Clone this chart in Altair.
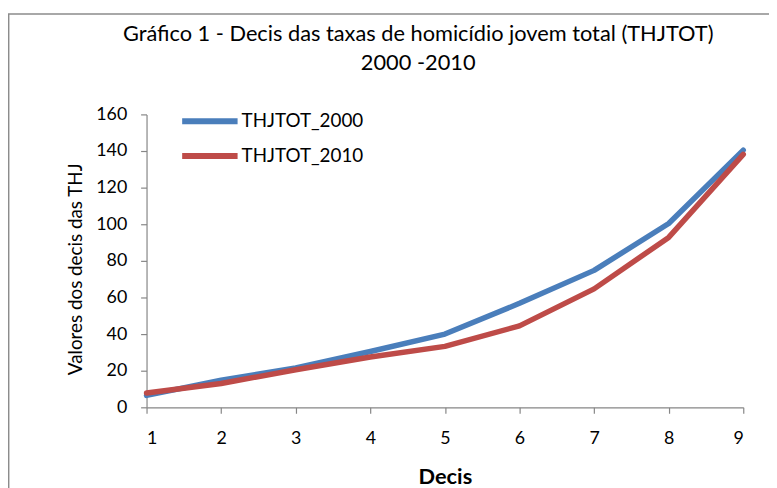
import altair as alt
import pandas as pd

decis = [1, 2, 3, 4, 5, 6, 7, 8, 9]
thj_2000 = [6.5, 14.8, 21.5, 30.5, 40.0, 56.8, 74.8, 100.4, 140.5]
thj_2010 = [7.8, 13.0, 20.5, 27.5, 33.3, 44.5, 64.7, 92.8, 138.2]
series_names = ["THJTOT_2000", "THJTOT_2010"]
colors = ["#4A7EBB", "#BE4B48"]
y_ticks = [0, 20, 40, 60, 80, 100, 120, 140, 160]

rows = []
for d, a, b in zip(decis, thj_2000, thj_2010):
    rows.append({"Decis": d, "Serie": series_names[0], "Valor": a})
    rows.append({"Decis": d, "Serie": series_names[1], "Valor": b})
df = pd.DataFrame(rows)

FONT = "Lato"
GRAY = "#868686"

lines = alt.Chart(df).mark_line(strokeWidth=5.5, strokeCap="round", strokeJoin="round").encode(
    x=alt.X("Decis:Q",
            scale=alt.Scale(domain=[1, 9], nice=False, zero=False),
            axis=alt.Axis(values=decis, title="Decis", titleFontSize=22, titleFontWeight="bold",
                          titlePadding=19, labelPadding=17, tickSize=6, format="d")),
    y=alt.Y("Valor:Q",
            scale=alt.Scale(domain=[0, 160], nice=False),
            axis=alt.Axis(values=y_ticks, title="Valores dos decis das THJ", titleFontSize=19,
                          titleFontWeight="normal", titlePadding=10, titleY=156,
                          labelPadding=14, tickSize=6)),
    color=alt.Color("Serie:N",
                    scale=alt.Scale(domain=series_names, range=colors),
                    legend=alt.Legend(title=None, orient="none", legendX=47, legendY=-10,
                                      symbolType="M-2,0H2", symbolSize=784, symbolStrokeWidth=6,
                                      symbolFillColor="transparent",
                                      labelFontSize=19, labelOffset=15, rowPadding=6,
                                      labelColor="black")),
)

frame = alt.Chart(pd.DataFrame({"k": [0]})).mark_rect(
    fill=None, stroke="#8C8C8C", strokeWidth=1.5, clip=False
).encode(
    x=alt.value(-139.3), x2=alt.value(700), y=alt.value(-101.5), y2=alt.value(400)
)

chart = alt.layer(frame, lines).properties(
    width=603, height=296,
    title=alt.Title(["Gráfico 1 - Decis das taxas de homicídio jovem total (THJTOT)", "2000 -2010"],
                    fontSize=22, fontWeight="normal", lineHeight=29, anchor="middle", dx=-27,
                    offset=-62, color="black", font=FONT),
    autosize=alt.AutoSizeParams(type="none"),
    padding={"left": 140, "top": 105, "right": 26, "bottom": 79},
).configure(font=FONT).configure_view(stroke=None).configure_axis(
    domainColor=GRAY, tickColor=GRAY, grid=False, labelFontSize=18, labelColor="black",
    titleColor="black", labelFont=FONT, titleFont=FONT, domainWidth=1.2, tickWidth=1.2
).configure_legend(labelFont=FONT)

chart.save("out.html", embed_options={"renderer": "svg", "actions": False})
